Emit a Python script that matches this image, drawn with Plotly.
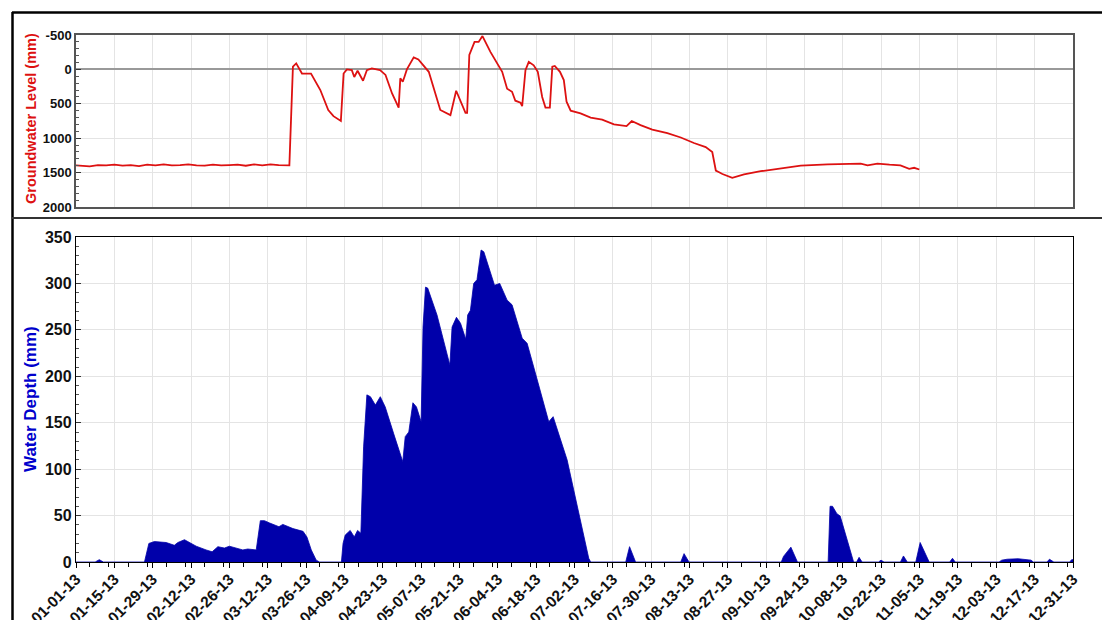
import pandas as pd
import plotly.graph_objects as go

W, H = 1110, 620
start = pd.Timestamp("2013-01-01")

# groundwater level, days since 01-01-13 -> mm below surface
gw_days = [0, 3, 5, 8, 11, 14, 17, 20, 23, 26, 29, 32, 35, 38, 41, 44, 47, 50, 53, 56,
           59, 62, 65, 68, 71, 74, 77.9, 79.2, 80.4, 82.5, 85.8, 89.2, 92.1, 94, 96.7,
           97.7, 98.9, 100.7, 101.6, 102.8, 104.8, 106.2, 108, 111, 113, 115.4, 117.8,
           118.4, 119.3, 119.9, 120.8, 123.3, 125, 128.8, 130.6, 133, 136.7, 138.8,
           142.2, 142.8, 143.6, 145.5, 147, 148.4, 151.3, 154.4, 155.6, 157.4, 159.2,
           160.4, 162.3, 162.9, 164.1, 165.3, 167.1, 168.6, 170.2, 171.4, 173, 173.9,
           174.8, 176.7, 178.1, 179.1, 180.6, 184.2, 187.9, 192.1, 196.4, 201, 202.9,
           206.1, 210.4, 215.9, 220.8, 225.6, 229.9, 232.3, 233.6, 234.8, 236, 239.6,
           243.9, 250, 256, 264.6, 274.4, 280, 286.5, 289, 292.6, 297, 301, 304.2, 306,
           307.9]
gw_mm = [1395, 1400, 1410, 1390, 1395, 1385, 1400, 1390, 1405, 1385, 1395, 1380, 1395,
         1390, 1380, 1395, 1400, 1385, 1395, 1390, 1385, 1400, 1380, 1395, 1380, 1390,
         1395, -40, -87, 60, 60, 300, 590, 680, 750, 60, 0, 10, 110, 20, 165, 10, -15,
         10, 80, 350, 555, 130, 180, 110, 0, -175, -145, 35, 280, 590, 665, 310, 630,
         630, -210, -400, -400, -485, -255, -40, 35, 280, 325, 455, 485, 535, 10, -110,
         -60, 35, 400, 555, 555, -40, -50, 35, 155, 470, 600, 640, 700, 730, 800, 825,
         750, 810, 875, 925, 990, 1070, 1130, 1200, 1470, 1495, 1520, 1575, 1525, 1480,
         1445, 1400, 1380, 1375, 1370, 1395, 1370, 1385, 1395, 1445, 1430, 1455]

# ponded water depth, days since 01-01-13 -> mm
wd_days = [0, 7, 8.5, 10, 25, 26.6, 28.6, 32.9, 35.9, 37.2, 39.6, 43.9, 47.5, 49.7, 51.8,
           54.2, 56, 58.5, 60.9, 62.7, 65.8, 67.3, 68.8, 70.7, 74.1, 75.5, 79.2, 82.9,
           84.3, 85.9, 87.7, 88.9, 96.9, 97.5, 98.3, 100.1, 101.6, 102.8, 104, 105,
           106.2, 107.5, 109.3, 111.1, 112.9, 116, 119.3, 120.2, 121.5, 123, 124.3, 126,
           126.7, 127.6, 128.4, 131.8, 136.5, 137.3, 138.9, 140.4, 142.3, 143, 144,
           145.2, 146.4, 147.9, 148.9, 152.8, 154.7, 157.4, 159.2, 162.9, 164.7, 167.1,
           172.6, 174.2, 179.3, 187.2, 187.9, 200.7, 202.1, 204.3, 220.8, 222, 223.8,
           257.5, 258.3, 261, 263.4, 274.6, 275.3, 276.2, 277.8, 279, 281.7, 283.9, 285,
           285.9, 287, 293, 293.9, 295, 301, 302.1, 303.5, 306.6, 308.2, 311.5, 319, 320,
           321, 337, 338, 340, 344, 348.7, 349.5, 354.5, 355.4, 357, 362.8, 363.5, 364]
wd_mm = [0, 0, 2.5, 0, 0, 20, 22, 21, 18, 21, 24, 17, 13, 11, 16.5, 15, 17, 15, 13, 14,
         13, 44.5, 44.5, 42, 38, 40.5, 36, 33, 27, 13, 2, 0, 0, 20, 29, 34, 27, 34, 31,
         124, 180, 178, 169, 178, 167, 138, 108, 135, 140, 171.5, 167, 151, 253, 296,
         295, 266, 212, 253, 263.5, 257, 240, 266, 271, 300, 304, 336, 334, 298, 300,
         282, 277, 241, 235.5, 210, 151, 156.5, 110, 4, 0, 0, 16.5, 0, 0, 9, 0, 0, 6,
         16, 0, 0, 60, 60, 52, 49.5, 22, 0, 0, 5, 0, 0, 2, 0, 0, 6.5, 0, 0, 21, 0, 0,
         4, 0, 0, 2, 3, 3.5, 2, 0, 0, 3, 0, 0, 2.5, 2.5]

gw_ticks = [-500, 0, 500, 1000, 1500, 2000]
gw_ticktext = ["-500", "0", "500", "1000", "1500", "2000"]

gw_dates = start + pd.to_timedelta(gw_days, unit="D")
wd_dates = start + pd.to_timedelta(wd_days, unit="D")

# page has an 8px body margin, so work in page pixels and shift
OFF = 8


def px_x(x):
    return (x - OFF) / W


def px_y(y):
    return 1 - (y - OFF) / H


FONT = "Liberation Sans, Arial, sans-serif"
day_ms = 86400000
xrange = ["2013-01-01", "2013-12-31"]

fig = go.Figure()
fig.add_trace(go.Scatter(x=gw_dates, y=gw_mm, mode="lines",
                         line=dict(color="#DD1111", width=1.8),
                         xaxis="x", yaxis="y", hoverinfo="skip"))
fig.add_trace(go.Scatter(x=wd_dates, y=wd_mm, mode="lines", fill="tozeroy",
                         line=dict(color="#0000AA", width=0.8), fillcolor="#0000AA",
                         xaxis="x2", yaxis="y2", hoverinfo="skip"))

xdom = [px_x(76), px_x(1073)]
common_x = dict(type="date", range=xrange, dtick=14 * day_ms, tick0="2013-01-01",
                showgrid=True, gridcolor="#e4e4e4", gridwidth=1,
                showline=True, mirror=True, zeroline=False, domain=xdom)

fig.update_layout(
    width=W, height=H, showlegend=False,
    paper_bgcolor="white", plot_bgcolor="white",
    margin=dict(l=0, r=0, t=0, b=0, pad=0),
    xaxis=dict(common_x, anchor="y", showticklabels=False, ticks="",
               linecolor="#555", linewidth=1.5),
    yaxis=dict(domain=[px_y(207), px_y(35)], anchor="x", range=[2000, -500],
               tickmode="array", tickvals=gw_ticks, ticktext=gw_ticktext,
               tickfont=dict(family=FONT, size=13, color="#111", weight="bold"),
               ticks="inside", ticklen=5, tickcolor="#333",
               minor=dict(dtick=100, ticks="inside", ticklen=3, tickcolor="#555"),
               showgrid=True, gridcolor="#e4e4e4", zeroline=True,
               zerolinecolor="#999", zerolinewidth=2,
               showline=True, mirror=True, linecolor="#555", linewidth=1.5,
               automargin=False),
    xaxis2=dict(common_x, anchor="y2", tickformat="%m-%d-%y", tickangle=-45,
                tickfont=dict(family=FONT, size=15.5, color="#111", weight="bold"),
                ticklabelstandoff=-4,
                ticks="outside", ticklen=5, tickcolor="black",
                minor=dict(dtick=7 * day_ms, ticks="outside", ticklen=4,
                           tickcolor="black"),
                linecolor="black", linewidth=1.3, automargin=False),
    yaxis2=dict(domain=[px_y(562), px_y(237)], anchor="x2", range=[0, 350],
                dtick=50,
                tickfont=dict(family=FONT, size=16, color="#111", weight="bold"),
                ticks="inside", ticklen=5, tickcolor="#333",
                minor=dict(dtick=10, ticks="inside", ticklen=3, tickcolor="#555"),
                showgrid=True, gridcolor="#e4e4e4", zeroline=False,
                showline=True, mirror=True, linecolor="black", linewidth=1.3,
                automargin=False),
)

fig.add_annotation(x=px_x(31), y=px_y(119), xref="paper", yref="paper",
                   xanchor="center", yanchor="middle",
                   text="Groundwater Level (mm)", textangle=-90, showarrow=False,
                   font=dict(family=FONT, size=14.5, color="#DD1111", weight="bold"))
fig.add_annotation(x=px_x(30), y=px_y(399), xref="paper", yref="paper",
                   xanchor="center", yanchor="middle",
                   text="Water Depth (mm)", textangle=-90, showarrow=False,
                   font=dict(family=FONT, size=17, color="#0000CC", weight="bold"))

# outer frame of the original panel
fig.add_shape(type="line", xref="paper", yref="paper", x0=px_x(12), x1=1,
              y0=px_y(12.5), y1=px_y(12.5), line=dict(color="black", width=2.5))
fig.add_shape(type="line", xref="paper", yref="paper", x0=px_x(12.5), x1=px_x(12.5),
              y0=px_y(12), y1=0, line=dict(color="black", width=2.5))
fig.add_shape(type="line", xref="paper", yref="paper", x0=px_x(12), x1=1,
              y0=px_y(218), y1=px_y(218), line=dict(color="#333", width=2))

fig.write_html("out.html")
